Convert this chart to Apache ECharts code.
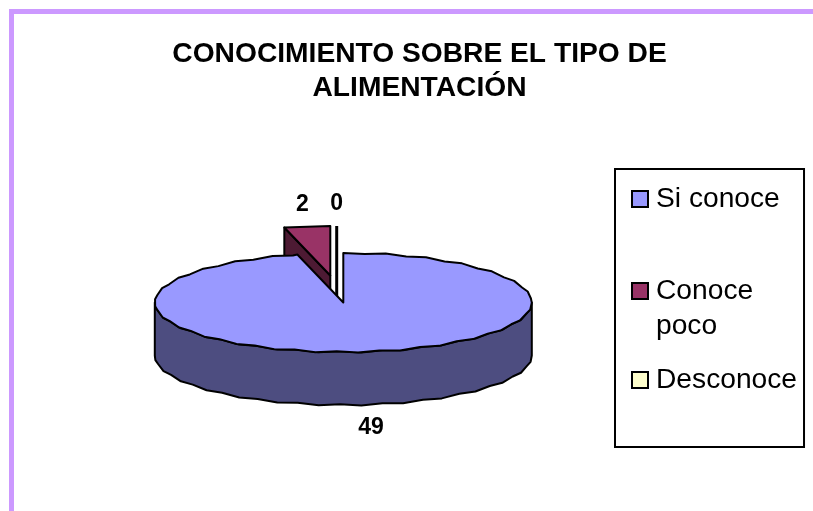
<!DOCTYPE html>
<html>
<head>
<meta charset="utf-8">
<style>html,body{margin:0;padding:0;background:#fff}#c{width:813px;height:511px}</style>
<script src="https://cdn.jsdelivr.net/npm/echarts@6/dist/echarts.min.js"></script>
</head>
<body>
<div id="c"></div>
<script>
const titleLines = ['CONOCIMIENTO SOBRE EL TIPO DE', 'ALIMENTACIÓN'];
const categories = ['Si conoce', 'Conoce poco', 'Desconoce'];
const legendLabels = ['Si conoce', '\nConoce\npoco', 'Desconoce'];
const values = [49, 2, 0];
const topColors = ['#9999FF', '#993366', '#FFFFCC'];
const sideColors = ['#4D4D80', '#4D1A33', '#000000'];

// layout of the tilted pie
const CX = 343.3, CY = 302.5, RX = 188.5, RY = 49.5, DEPTH = 53, STEP = 6.5, SCALLOP = 0.7;
const EXPLODE = [[0, 0], [-13, -27], [-6.6, -27]];
const total = values.reduce((a, b) => a + b, 0);

function sliceAngles(i) {
  // clockwise degrees from 12 o'clock; first slice starts at the top
  let start = 0;
  for (let k = 0; k < i; k++) start += values[k] / total * 360;
  return [start, start + values[i] / total * 360];
}
function rim(cx, cy, deg) {
  const a = deg * Math.PI / 180;
  return [cx + RX * Math.sin(a), cy - RY * Math.cos(a)];
}
function arc(cx, cy, from, to) {
  // the reference's rim is a rough, faintly scalloped chain of chords
  if (to - from < 2.5 * STEP) return [rim(cx, cy, from), rim(cx, cy, to)];
  const pts = [];
  let k = 0;
  for (let d = from; d < to; d += STEP, k++) {
    const p = rim(cx, cy, d);
    const s = k === 0 ? 0 : (k % 2 ? SCALLOP : -SCALLOP);
    pts.push([p[0], p[1] + s]);
  }
  pts.push(rim(cx, cy, to));
  return pts;
}
const edge = { stroke: '#000', lineWidth: 2, lineJoin: 'round' };

function renderSlice(i) {
  return function (params, api) {
    const v = api.value(0);
    const [a0, a1] = sliceAngles(i);
    const cx = CX + EXPLODE[i][0], cy = CY + EXPLODE[i][1];
    const apex = [cx, cy];
    const children = [];
    const down = p => [p[0], p[1] + DEPTH];
    const mid = (a0 + a1) / 2;
    const midRim = rim(cx, cy, mid);
    if (v === 0) {
      const tip = rim(cx, cy, a0);
      children.push({ type: 'polyline', shape: { points: [down(apex), apex, tip] }, style: { stroke: '#000', lineWidth: 3, fill: null } });
    } else if (a1 - a0 > 180) {
      // outer wall of the big slice: the front half of the rim
      const front = arc(cx, cy, 90, 270);
      children.push({ type: 'polygon', shape: { points: front.concat(front.slice().reverse().map(down)) },
        style: Object.assign({ fill: sideColors[i] }, edge) });
      const top = [apex].concat(arc(cx, cy, a0, a1));
      children.push({ type: 'polygon', shape: { points: top }, style: Object.assign({ fill: topColors[i] }, edge) });
    } else {
      // cut face seen through the gap, then the top of the slice
      const left = rim(cx, cy, a0);
      children.push({ type: 'polygon', shape: { points: [left, apex, down(apex), down(left)] },
        style: Object.assign({ fill: sideColors[i] }, edge) });
      const top = [apex].concat(arc(cx, cy, a0, a1));
      children.push({ type: 'polygon', shape: { points: top }, style: Object.assign({ fill: topColors[i] }, edge) });
    }
    // value label just outside the rim
    const front = Math.cos(mid * Math.PI / 180) < 0;
    children.push({
      type: 'text', z2: 50,
      style: {
        text: String(v),
        x: cx + (midRim[0] - cx) * 1.2,
        y: midRim[1] + (front ? DEPTH + 23 : -22),
        align: 'center', verticalAlign: 'middle',
        font: 'bold 23px "Liberation Sans", Arial, sans-serif', fill: '#000'
      }
    });
    return { type: 'group', children };
  };
}

const chart = echarts.init(document.getElementById('c'), null, { renderer: 'canvas' });
chart.setOption({
  animation: false,
  backgroundColor: '#fff',
  title: {
    text: titleLines.join('\n'),
    left: 414.5, top: 32, textAlign: 'center',
    textStyle: { fontFamily: '"Liberation Sans", Arial, sans-serif', fontSize: 28.2, fontWeight: 'bold', color: '#000', lineHeight: 34 }
  },
  graphic: [{
    type: 'polyline', silent: true,
    shape: { points: [[11.5, 511], [11.5, 11.5], [813, 11.5]] },
    style: { stroke: '#CC99FF', lineWidth: 5, fill: null }
  }],
  legend: {
    orient: 'vertical', left: 615, top: 169, selectedMode: false,
    padding: [11, 7, 51, 16], itemGap: 18.5, itemWidth: 16, itemHeight: 16,
    borderColor: '#000', borderWidth: 2, backgroundColor: '#fff',
    formatter: name => legendLabels[categories.indexOf(name)],
    textStyle: { fontFamily: '"Liberation Sans", Arial, sans-serif', fontSize: 28.2, color: '#000', lineHeight: 35, padding: [4, 0, 0, 3] },
    data: categories.map((name, i) => ({
      name,
      icon: 'rect',
      itemStyle: { color: topColors[i], borderColor: '#000', borderWidth: 2 },
      textStyle: i === 1 ? {} : { lineHeight: i === 0 ? 34 : 28 }
    }))
  },
  series: categories.map((name, i) => ({
    type: 'custom', name, coordinateSystem: 'none',
    z: i === 0 ? 3 : 2,
    itemStyle: { color: topColors[i] },
    renderItem: renderSlice(i),
    data: [[values[i]]]
  }))
});
</script>
</body>
</html>
